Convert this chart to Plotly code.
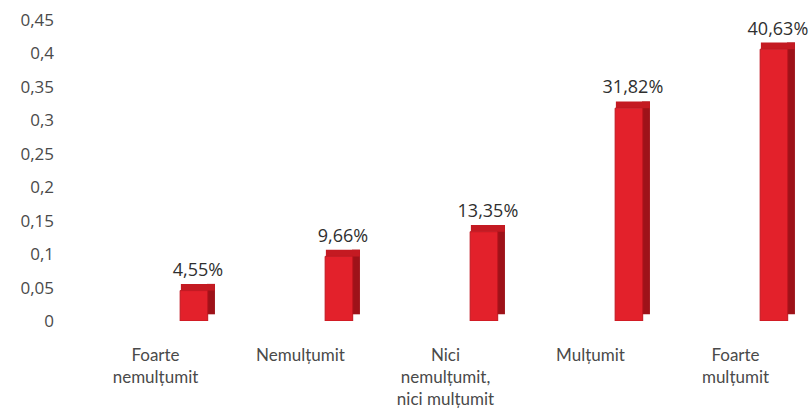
import plotly.graph_objects as go

# categorii si procente
categories = ["Foarte<br>nemulțumit", "Nemulțumit", "Nici<br>nemulțumit,<br>nici mulțumit",
              "Mulțumit", "Foarte<br>mulțumit"]
values = [0.0455, 0.0966, 0.1335, 0.3182, 0.4063]
labels = [f"{v * 100:.2f}%".replace(".", ",") for v in values]
ytick_vals = [0, 0.05, 0.1, 0.15, 0.2, 0.25, 0.3, 0.35, 0.4, 0.45]

depth = 0.01  # adancimea efectului 3D
font = "Lato, 'Open Sans', sans-serif"
num_font = "'Open Sans', sans-serif"

fig = go.Figure()

# fata laterala (efect 3D)
fig.add_trace(go.Bar(
    x=categories, y=values, base=depth, width=0.055, offset=0.355,
    marker=dict(color="#9e1219", line=dict(width=0)),
    hoverinfo="skip", showlegend=False,
))

# fata de sus + etichete
fig.add_trace(go.Bar(
    x=categories, y=[depth] * len(values), base=values, width=0.235, offset=0.175,
    marker=dict(color="#c41a22", line=dict(width=0)),
    text=labels, textposition="outside", cliponaxis=False, constraintext="none",
    textfont=dict(family=num_font, size=18, color="#2f2f2f"),
    hoverinfo="skip", showlegend=False,
))

# fata principala
fig.add_trace(go.Bar(
    x=categories, y=values, width=0.19, offset=0.17,
    marker=dict(color="#e3212b", line=dict(color="#c0161f", width=1)),
    showlegend=False,
))

fig.update_layout(
    width=810, height=419,
    margin=dict(l=83, r=2, t=20, b=98),
    paper_bgcolor="white", plot_bgcolor="white",
    separators=",.",
    barmode="overlay",
    font=dict(family=font, size=16, color="#404040"),
    xaxis=dict(showgrid=False, showline=False, ticks="", tickangle=0, automargin=False,
               tickfont=dict(family=font, size=17, color="#4a4a4a"), ticklabelstandoff=22),
    yaxis=dict(range=[0, 0.45], tickvals=ytick_vals, showgrid=False, showline=False,
               zeroline=False, ticks="", ticklabelstandoff=28, automargin=False,
               tickfont=dict(family=num_font, size=17, color="#4a4a4a")),
)

fig.write_html("out.html", config={"displayModeBar": False},
               post_script="document.body.style.margin='0px';")
